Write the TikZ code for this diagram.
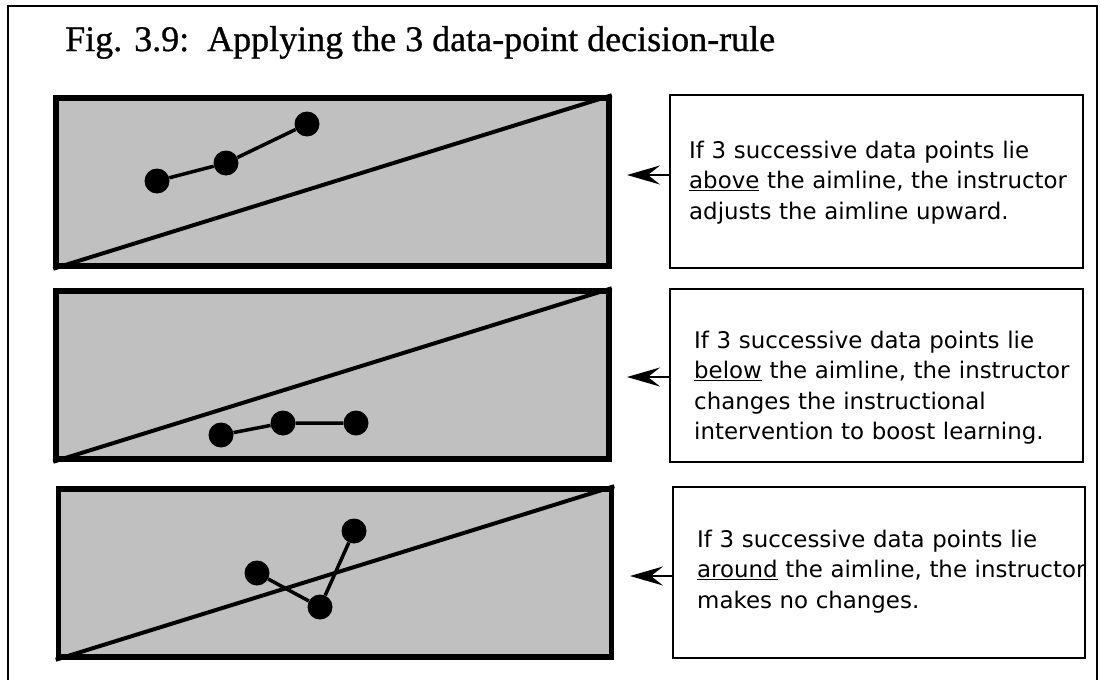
\documentclass[tikz,border=0pt]{standalone}
\usepackage{fontspec}
\setmainfont{Liberation Serif}
\newfontfamily\titlefont{Liberation Serif}[FakeBold=0.8]
\newfontfamily\notefont{DejaVu Sans}
\usetikzlibrary{arrows.meta}
\definecolor{panelgray}{HTML}{C0C0C0}

\begin{document}
\begin{tikzpicture}[x=1pt, y=-1pt]
\tikzstyle{panelr}=[rectangle, draw=black, fill=panelgray, line width=5.5pt, inner sep=0pt, minimum width=553pt, minimum height=168pt]
\tikzstyle{dotc}=[circle, fill=black, minimum size=25pt, inner sep=0pt]
\tikzstyle{noter}=[rectangle, draw=black, line width=1.8pt, inner sep=0pt, minimum width=413pt, minimum height=173pt]
\tikzstyle{notetext}=[anchor=base west, inner sep=0pt, align=left, text width=440pt, font=\notefont\fontsize{22.9}{30.5}\selectfont]
\tikzstyle{aimstyle}=[line width=4pt]
\tikzstyle{linkstyle}=[line width=3.5pt]
\tikzstyle{drawstyle}=[line width=1.8pt, -{Stealth[length=33pt, width=19pt, inset=12pt]}]

\useasboundingbox (0,0) rectangle (1101,680);
\draw[line width=2pt] (8,680) -- (8,6) -- (1097,6) -- (1097,680);
\node[anchor=base west, inner sep=0pt, font=\titlefont\fontsize{36}{40}\selectfont] (title) at (65,51) {Fig. 3.9:\ \ Applying the 3 data-point decision-rule};

% above
\node[panelr] (P0) at (332.5,182) {};
\draw[aimstyle] (P0.south west) -- (P0.north east);
\node[dotc] (D0x0) at (157,181) {};
\node[dotc] (D0x1) at (226,163) {};
\node[dotc] (D0x2) at (307,124) {};
\draw[linkstyle] (D0x0) -- (D0x1) -- (D0x2);
\node[noter] (N0) at (876.5,181.5) {};
\coordinate (A0) at (627,175);
\draw[drawstyle] (N0.west |- A0) -- (A0);
\node[notetext] (T0) at (689,158) {If 3 successive data points lie\\ \underline{above} the aimline, the instructor\\ adjusts the aimline upward.};

% below
\node[panelr] (P1) at (332.5,375) {};
\draw[aimstyle] (P1.south west) -- (P1.north east);
\node[dotc] (D1x0) at (221,435) {};
\node[dotc] (D1x1) at (283,423) {};
\node[dotc] (D1x2) at (356,423) {};
\draw[linkstyle] (D1x0) -- (D1x1) -- (D1x2);
\node[noter] (N1) at (876.5,375.5) {};
\coordinate (A1) at (627,377);
\draw[drawstyle] (N1.west |- A1) -- (A1);
\node[notetext] (T1) at (694,348) {If 3 successive data points lie\\ \underline{below} the aimline, the instructor\\ changes the instructional\\ intervention to boost learning.};

% around
\node[panelr] (P2) at (335,573) {};
\draw[aimstyle] (P2.south west) -- (P2.north east);
\node[dotc] (D2x0) at (257,573) {};
\node[dotc] (D2x1) at (320,607) {};
\node[dotc] (D2x2) at (354,531) {};
\draw[linkstyle] (D2x0) -- (D2x1) -- (D2x2);
\node[noter, minimum width=412pt, minimum height=171pt] (N2) at (879,572.5) {};
\coordinate (A2) at (630,576);
\draw[drawstyle] (N2.west |- A2) -- (A2);
\node[notetext] (T2) at (697,547) {If 3 successive data points lie\\ \underline{around} the aimline, the instructor\\ makes no changes.};
\end{tikzpicture}
\end{document}
